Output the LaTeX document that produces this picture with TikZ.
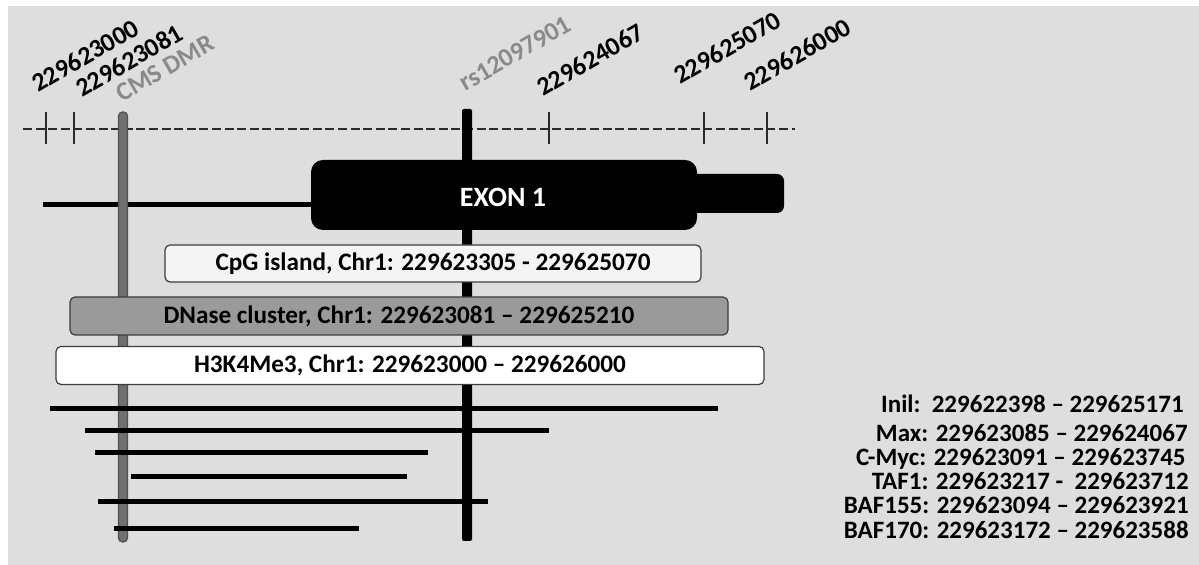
\documentclass[tikz,border=0pt]{standalone}
\usepackage{fontspec}
\setmainfont{Carlito}
\definecolor{bg}{HTML}{DEDEDE}
\definecolor{cmsfill}{HTML}{707070}
\definecolor{cmsdraw}{HTML}{505050}
\definecolor{labgray}{HTML}{8A8A8A}
\definecolor{dnasefill}{HTML}{9A9A9A}
\definecolor{cpgfill}{HTML}{F4F4F4}
\definecolor{boxdraw}{HTML}{3C3C3C}
\definecolor{axiscol}{HTML}{2A2A2A}
\tikzset{
  axisline/.style={draw=axiscol, line width=1.2pt, dash pattern=on 4.5pt off 1.8pt},
  tickline/.style={draw=axiscol, line width=0.8pt},
  poslab/.style={rotate=30, anchor=base west, inner sep=0pt, font=\fontsize{13}{15}\selectfont\bfseries},
  graylab/.style={poslab, text=labgray},
  regionbox/.style={draw=boxdraw, line width=0.6pt, rounded corners=2.5pt, inner sep=0pt,
    font=\fontsize{12.6}{15}\selectfont\bfseries},
  peakline/.style={line width=2.5pt, draw=black},
  sitelab/.style={anchor=base east, inner sep=0pt, font=\fontsize{12.5}{14}\selectfont\bfseries}
}
\begin{document}
\begin{tikzpicture}[x=0.5pt,y=-0.5pt]
\useasboundingbox (0,0) rectangle (1199,565);
\fill[bg] (8,6) rectangle (1199,565);

% axis with ticks
\coordinate (axL) at (23,129);
\coordinate (axR) at (795,129);
\draw[axisline] (axL) -- (axR);
\foreach \x in {46,74,549,704,767} \draw[tickline] (\x,112) -- (\x,144);

% position labels
\node[poslab] (p1) at (38,93) {229623000};
\node[poslab] (p2) at (82,98) {229623081};
\node[graylab] (cms) at (122,103) {CMS DMR};
\node[graylab] (rs) at (465,92) {rs12097901};
\node[poslab] (p3) at (543,97) {229624067};
\node[poslab] (p4) at (680,85) {229625070};
\node[poslab] (p5) at (750,92) {229626000};

% gene line
\draw[line width=2.5pt] (43,205) -- (315,205);

% vertical markers
\filldraw[fill=cmsfill, draw=cmsdraw, line width=0.6pt, rounded corners=2pt] (118.5,112) rectangle (127.5,542);
\fill[black, rounded corners=1pt] (462,109) rectangle (472,541);

% exon
\fill[black, rounded corners=6pt] (311,160) rectangle (697,230);
\fill[black, rounded corners=3.5pt] (680,174) rectangle (784,213);
\node[text=white, font=\fontsize{14}{16}\selectfont\bfseries, inner sep=0pt] (exon) at (503,197) {EXON 1};

% region boxes
\node[regionbox, fill=cpgfill, minimum width=268pt, minimum height=18.5pt] (cpg) at (433,263.5)
  {CpG island, Chr1: 229623305 - 229625070};
\node[regionbox, fill=dnasefill, minimum width=329pt, minimum height=19pt] (dnase) at (399,316)
  {DNase cluster, Chr1: 229623081 – 229625210};
\node[regionbox, fill=white, minimum width=354pt, minimum height=19pt] (h3k) at (410,365.5)
  {H3K4Me3, Chr1: 229623000 – 229626000};

% binding peaks
\draw[peakline] (50,409) -- (718,409);
\draw[peakline] (85,431) -- (549,431);
\draw[peakline] (95,453) -- (428,453);
\draw[peakline] (131,477) -- (407,477);
\draw[peakline] (98,502) -- (488,502);
\draw[peakline] (114,529) -- (359,529);

% legend
\node[sitelab] (s1) at (1184,413) {Inil:\ \ 229622398 – 229625171};
\node[sitelab] (s2) at (1188,442) {Max: 229623085 – 229624067};
\node[sitelab] (s3) at (1186,466) {C-Myc: 229623091 – 229623745};
\node[sitelab] (s4) at (1189,490) {TAF1: 229623217 -\ \ 229623712};
\node[sitelab] (s5) at (1189,514) {BAF155: 229623094 – 229623921};
\node[sitelab] (s6) at (1189,539) {BAF170: 229623172 – 229623588};
\end{tikzpicture}
\end{document}
